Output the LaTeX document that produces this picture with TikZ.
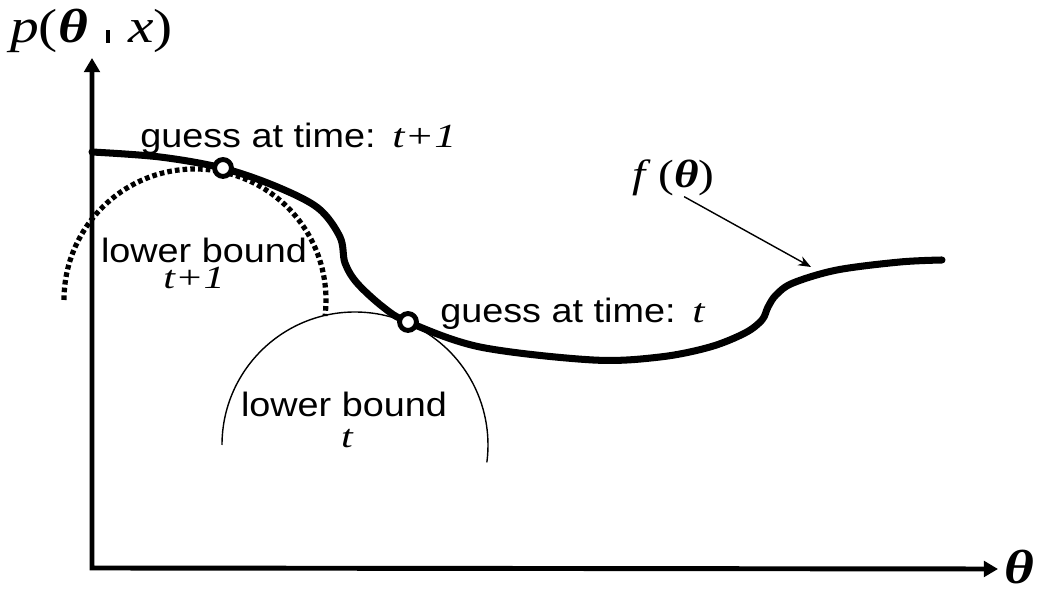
\documentclass[tikz,border=0pt]{standalone}
\usepackage{fontspec}
\setmainfont{Liberation Sans}[FakeStretch=1.12]
\newfontfamily\tms{Liberation Serif}[FakeStretch=1.3]
\newfontfamily\mth{Liberation Serif}[FakeStretch=1.2]
\usetikzlibrary{arrows.meta}

\begin{document}
\begin{tikzpicture}[x=0.025cm,y=0.025cm,
  axis/.style={line width=3.5pt,{Triangle[length=10pt,width=11pt]}-{Triangle[length=10pt,width=11pt]}},
  curve/.style={line width=5pt,line cap=round},
  bound/.style={line width=1pt},
  oldbound/.style={line width=3.7pt,dash pattern=on 3.3pt off 2.2pt},
  guess/.style={circle,draw,line width=3.5pt,fill=white,minimum size=12pt,inner sep=0pt},
  pointer/.style={line width=1pt,-{Stealth[length=9pt,width=7pt]}},
  lab/.style={inner sep=0pt,font=\fontsize{24}{28}\selectfont},
  tlab/.style={inner sep=0pt,font=\tms\itshape\fontsize{23}{27}\selectfont},
  mlab/.style={inner sep=0pt}]
  \useasboundingbox (0,0) rectangle (1045,590);
  % axes
  \coordinate (O) at (92,22);
  \coordinate (ytop) at (92,532);
  \coordinate (xend) at (998,21);
  \draw[axis] (ytop) -- (O) -- (xend);
  \node[mlab,anchor=base west,font=\mth\fontsize{34}{38}\selectfont] (ylab) at (10,547)
    {\textit{p}(\textbf{\textit{θ}}\hspace{0.38em}\rule{3pt}{9.5pt}\hspace{0.38em}\textit{x})};
  \node[mlab,anchor=base west,font=\mth\bfseries\itshape\fontsize{34}{38}\selectfont] (xlab) at (1004,6) {θ};
  % lower bounds
  \draw[oldbound] (195,290) ++(180:131) arc[start angle=180,end angle=-7,radius=131];
  \draw[bound] (355,145) ++(180:133) arc[start angle=180,end angle=-7.5,radius=133];
  % the function
  \draw[curve] plot[smooth,tension=0.55] coordinates {(92,438) (160,433) (222,422) (275,404)
    (318,382) (340,353) (345,327) (357,307) (383,283) (408,268) (480,243) (593,230) (660,233)
    (710,243) (745,257) (762,270) (768,283) (776,295) (793,307) (837,320) (900,328) (942,330)};
  \node[guess] (g1) at (223,422) {};
  \node[guess] (g0) at (408,268) {};
  % labels
  \node[lab,anchor=base west] (guess1) at (140,442) {guess at time:\hspace{0.5em}{\tms\itshape t+1}};
  \node[lab,anchor=base west] (guess0) at (440,267) {guess at time:\hspace{0.5em}{\tms\itshape t}};
  \node[lab,anchor=base] (lb1) at (204,327) {lower bound};
  \node[tlab,anchor=base] (lb1t) at (194,301) {t+1};
  \node[lab,anchor=base] (lb0) at (344,173) {lower bound};
  \node[tlab,anchor=base] (lb0t) at (347,142) {t};
  \node[mlab,anchor=base west,font=\mth\fontsize{28}{31}\selectfont] (flab) at (632,402)
    {\textit{f}\hspace{0.2em}(\textbf{\textit{θ}})};
  \coordinate (ftip) at (811,323);
  \draw[pointer] (flab.300) -- (ftip);
\end{tikzpicture}
\end{document}
